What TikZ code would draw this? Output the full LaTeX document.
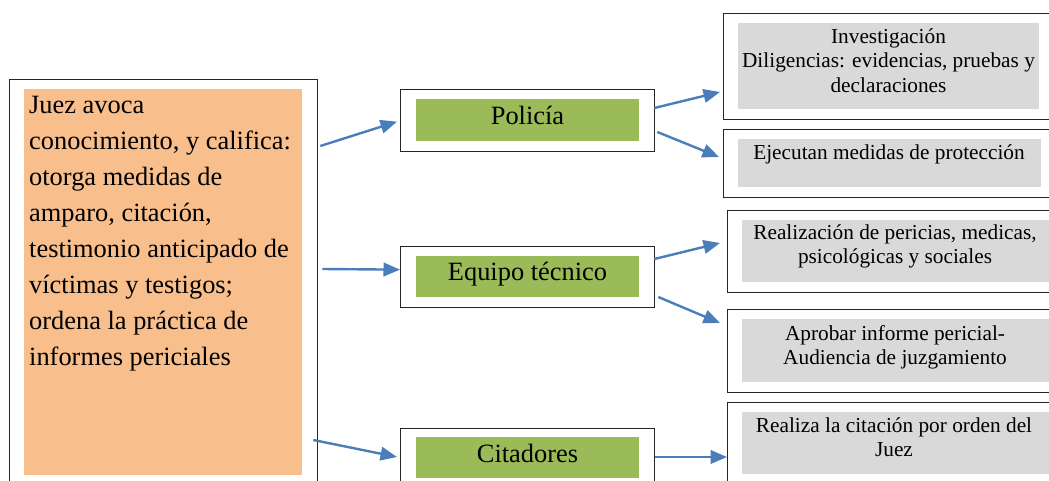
\documentclass[tikz,border=0pt]{standalone}
\usepackage{fontspec}
\setmainfont{Liberation Serif}
\usetikzlibrary{arrows.meta,calc}
\definecolor{orangefill}{HTML}{F8BF8D}
\definecolor{greenfill}{HTML}{9BBB59}
\definecolor{grayfill}{HTML}{D9D9D9}
\definecolor{arrowblue}{HTML}{4A7EBB}
\begin{document}
\begin{tikzpicture}[x=1pt,y=-1pt,
  frame/.style={draw=black!85, line width=1.3pt, inner sep=0pt, anchor=north west},
  fillbox/.style={inner sep=0pt, anchor=north west, draw=none},
  conn/.style={draw=arrowblue, line width=2.4pt, -{Triangle[length=16.5pt,width=13.5pt]}},
  bigtext/.style={font=\fontsize{26.4}{36}\selectfont, inner sep=0pt},
  smalltext/.style={font=\fontsize{21.3}{24.5}\selectfont, inner sep=0pt, align=center, anchor=north},
]
\useasboundingbox (0,0) rectangle (1049,481);
\clip (0,0) rectangle (1049,481);

% left box
\node[frame, minimum width=308pt, minimum height=420pt] (juez) at (9,79) {};
\node[fillbox, fill=orangefill, minimum width=278pt, minimum height=386pt] (juezfill) at (24,89) {};
\node[bigtext, anchor=north west, align=left] (jueztext) at (29,87.8)
  {\strut Juez avoca\\conocimiento, y califica:\\otorga medidas de\\amparo, citación,\\testimonio anticipado de\\víctimas y testigos;\\ordena la práctica de\\informes periciales};

% middle boxes
\node[frame, minimum width=254pt, minimum height=62pt] (policia) at (400,89) {};
\node[fillbox, fill=greenfill, minimum width=223pt, minimum height=42pt] (policiafill) at (416,99) {};
\node[bigtext, anchor=base] (policiatext) at (527.5,125) {Policía};

\node[frame, minimum width=254pt, minimum height=61pt] (equipo) at (400,246) {};
\node[fillbox, fill=greenfill, minimum width=223pt, minimum height=41pt] (equipofill) at (416,256) {};
\node[bigtext, anchor=base] (equipotext) at (527.5,280) {Equipo técnico};

\node[frame, minimum width=254pt, minimum height=80pt] (citadores) at (400,428) {};
\node[fillbox, fill=greenfill, minimum width=223pt, minimum height=41pt] (citadoresfill) at (416,437) {};
\node[bigtext, anchor=base] (citadorestext) at (527.5,462) {Citadores};

% right boxes
\node[frame, minimum width=340pt, minimum height=106pt] (r1) at (723,13) {};
\node[fillbox, fill=grayfill, minimum width=301pt, minimum height=86pt] (r1fill) at (738,23) {};
\node[smalltext] (r1text) at (888.5,25.85) {\strut Investigación\\Diligencias: evidencias, pruebas y\\declaraciones};

\node[frame, minimum width=340pt, minimum height=68pt] (r2) at (723,129) {};
\node[fillbox, fill=grayfill, minimum width=303pt, minimum height=48pt] (r2fill) at (738,139) {};
\node[smalltext, anchor=base] (r2text) at (889,160) {Ejecutan medidas de protección};

\node[frame, minimum width=340pt, minimum height=82pt] (r3) at (727,210) {};
\node[fillbox, fill=grayfill, minimum width=310pt, minimum height=62pt] (r3fill) at (742,220) {};
\node[smalltext] (r3text) at (895,221.85) {\strut Realización de pericias, medicas,\\psicológicas y sociales};

\node[frame, minimum width=340pt, minimum height=83pt] (r4) at (727,309) {};
\node[fillbox, fill=grayfill, minimum width=310pt, minimum height=63pt] (r4fill) at (742,319) {};
\node[smalltext] (r4text) at (895,322.85) {\strut Aprobar informe pericial-\\Audiencia de juzgamiento};

\node[frame, minimum width=340pt, minimum height=100pt] (r5) at (727,402) {};
\node[fillbox, fill=grayfill, minimum width=310pt, minimum height=62pt] (r5fill) at (742,412) {};
\node[smalltext] (r5text) at (894,414.85) {\strut Realiza la citación por orden del\\Juez};

% connectors
\draw[conn] ($(juez.north east)+(2,67)$) -- ($(policia.west)+(-3,1)$);
\draw[conn] ($(juez.north east)+(4,190)$) -- ($(equipo.west)+(0,-7.5)$);
\draw[conn] ($(juez.north east)+(-5,361)$) -- ($(citadores.north west)+(-3,29)$);
\draw[conn] ($(policia.north east)+(-1,19)$) -- ($(r1.north west)+(-3,79)$);
\draw[conn] ($(policia.north east)+(2,43)$) -- ($(r2.north west)+(-4,28)$);
\draw[conn] ($(equipo.north east)+(-1,13)$) -- ($(r3.north west)+(-7,33)$);
\draw[conn] ($(equipo.north east)+(3,51)$) -- ($(r4.north west)+(-7,14)$);
\draw[conn] ($(citadores.north east)+(0,29)$) -- ($(r5.north west)+(0,55)$);
\end{tikzpicture}
\end{document}
